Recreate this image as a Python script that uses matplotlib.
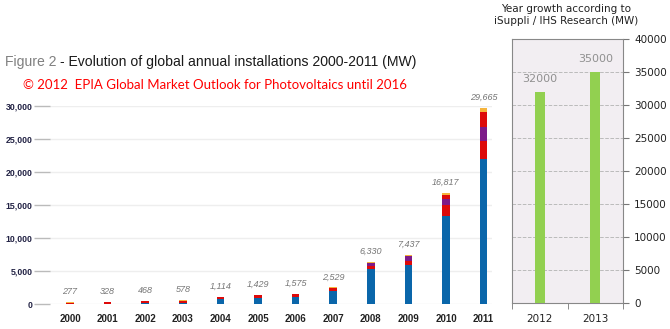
import matplotlib.pyplot as plt
import numpy as np

# EPIA data 2000-2011 (MW), stacked segments
years = ['2000', '2001', '2002', '2003', '2004', '2005',
         '2006', '2007', '2008', '2009', '2010', '2011']
europe = [20, 50, 130, 200, 700, 950, 1000, 1920, 5250, 5850, 13400, 22000]
apac = [80, 200, 250, 250, 300, 330, 400, 450, 500, 700, 1600, 2700]
americas = [0, 0, 0, 0, 0, 0, 0, 50, 400, 650, 900, 2100]
china = [0, 10, 20, 20, 30, 40, 50, 50, 50, 100, 600, 2300]
row = [177, 68, 68, 108, 84, 109, 125, 59, 130, 137, 317, 565]
totals = [277, 328, 468, 578, 1114, 1429, 1575, 2529, 6330, 7437, 16817, 29665]

# iSuppli / IHS forecast
fc_years = ['2012', '2013']
fc_values = [32000, 35000]

fig = plt.figure(figsize=(6.7, 3.29), dpi=100)

# --- left chart ---
ax = fig.add_axes([50 / 670, 1 - 304 / 329, 442 / 670, 198 / 329])
x = np.arange(len(years))
series = [europe, apac, americas, china, row]
colors = ['#0a66aa', '#dd0a0a', '#7d1a88', '#dd0a0a', '#f5b43c']
bottom = np.zeros(len(years))
for vals, c in zip(series, colors):
    ax.bar(x, vals, 0.2, bottom=bottom, color=c, zorder=3)
    bottom += np.array(vals)

for xi, t in zip(x, totals):
    ax.text(xi, t + 900, f'{t:,}', ha='center', va='bottom', fontsize=6.5,
            style='italic', color='#777777', family='Liberation Sans')

ax.set_xlim(-(70 - 50) / 37.6, (492 - 70) / 37.6)
ax.set_ylim(0, 30000)
ax.set_yticks(range(0, 30001, 5000))
ax.set_yticklabels([f'{v:,}' for v in range(0, 30001, 5000)],
                   fontsize=6.3, fontweight='bold', color='#222244',
                   family='Liberation Sans')
ax.set_xticks(x)
ax.set_xticklabels(years, fontsize=7, fontweight='bold', color='#222222',
                   family='Liberation Sans')
ax.tick_params(axis='y', length=11.5, width=1, color='#bbbbbb', pad=1)
ax.tick_params(axis='x', length=0, pad=7)
ax.grid(axis='y', color='#eeeeee', lw=1, zorder=0)
for s in ax.spines.values():
    s.set_visible(False)

t1 = fig.text(5 / 670, 1 - 62 / 329, 'Figure 2', fontsize=10.1, color='#808080',
              family='Liberation Sans', va='center')
fig.canvas.draw()
bb = t1.get_window_extent()
fig.text(bb.x1 / 670 + 4 / 670, 1 - 62 / 329,
         '- Evolution of global annual installations 2000-2011 (MW)',
         fontsize=10.1, color='#1a1a1a', family='Liberation Sans', va='center')
fig.text(23 / 670, 1 - 85 / 329,
         '\u00a9 2012  EPIA Global Market Outlook for Photovoltaics until 2016',
         fontsize=9.5, color='#ff0000', family='Lato', va='center')

# --- right chart ---
ax2 = fig.add_axes([512 / 670, 1 - 303 / 329, 111 / 670, 264 / 329])
ax2.set_facecolor('#f2eef2')
xf = np.arange(len(fc_years))
ax2.bar(xf, fc_values, 0.18, color='#92d050', zorder=3)
for xi, v in zip(xf, fc_values):
    ax2.text(xi, v + 1200, str(v), ha='center', va='bottom', fontsize=8,
             color='#909090', family='DejaVu Sans')
ax2.set_xlim(-0.5, 1.5)
ax2.set_ylim(0, 40000)
ax2.set_yticks(range(0, 40001, 5000))
ax2.yaxis.tick_right()
ax2.tick_params(axis='y', length=4, color='#777777', labelsize=7.5, pad=4,
                labelcolor='#222222')
ax2.set_xticks(xf)
ax2.set_xticklabels(fc_years, fontsize=7.5, color='#222222')
ax2.set_xticks([-0.5, 0.5, 1.5], minor=True)
ax2.tick_params(axis='x', which='major', length=0, pad=8)
ax2.tick_params(axis='x', which='minor', length=4, color='#777777')
ax2.grid(axis='y', color='#bbbbbb', ls='--', lw=0.7, zorder=0)
for s in ax2.spines.values():
    s.set_color('#888888')

fig.text(566 / 670, 1 - 15 / 329, 'Year growth according to\niSuppli / IHS Research (MW)',
         ha='center', va='center', fontsize=7.5, color='#222222',
         family='DejaVu Sans', linespacing=1.35)

fig.savefig('out.png', dpi=100)
